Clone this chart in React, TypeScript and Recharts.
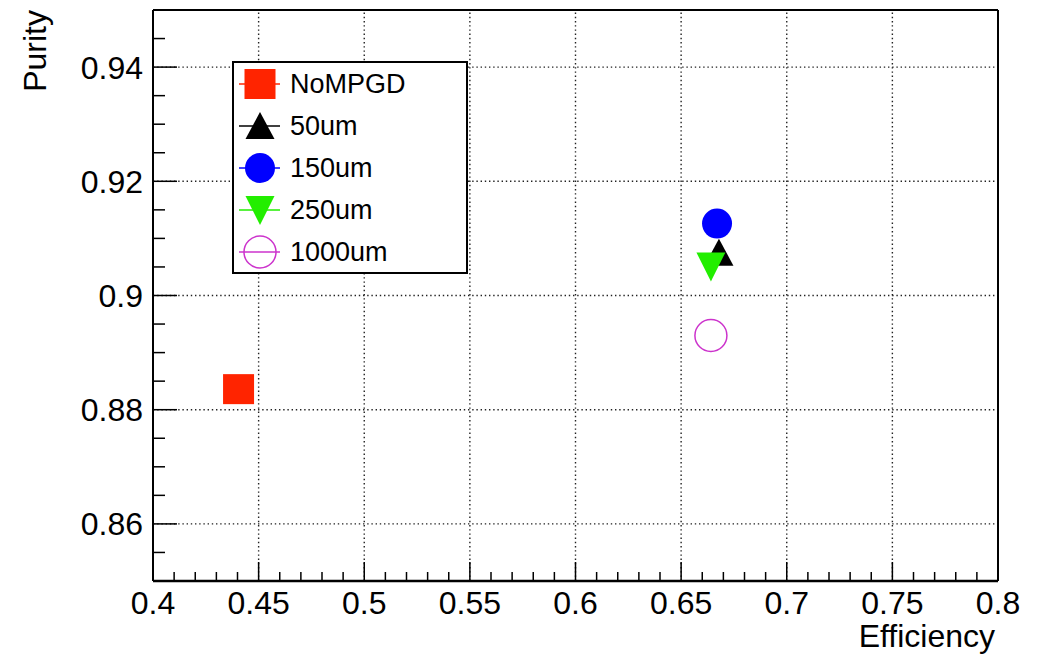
import React from 'react';
import { ScatterChart, Scatter, XAxis, YAxis, ReferenceLine, Legend } from 'recharts';

const FONT = '"Liberation Sans", Arial, Helvetica, sans-serif';

const seriesNames = ['NoMPGD', '50um', '150um', '250um', '1000um'];
const seriesColors = ['#ff2400', '#000000', '#0000ff', '#22ee00', '#cc33cc'];
const seriesShapes = ['square', 'triangle', 'circle', 'triangleDown', 'openCircle'];
const efficiency = [0.4405, 0.6679, 0.667, 0.6641, 0.6641];
const purity = [0.8836, 0.9075, 0.9126, 0.9051, 0.893];

const xDomain = [0.4, 0.8];
const yDomain = [0.85, 0.95];
const xMajorTicks = [0.4, 0.45, 0.5, 0.55, 0.6, 0.65, 0.7, 0.75, 0.8];
const xTickLabels = ['0.4', '0.45', '0.5', '0.55', '0.6', '0.65', '0.7', '0.75', '0.8'];
const xMinorTicks = [
  0.41, 0.42, 0.43, 0.44, 0.46, 0.47, 0.48, 0.49, 0.51, 0.52, 0.53, 0.54,
  0.56, 0.57, 0.58, 0.59, 0.61, 0.62, 0.63, 0.64, 0.66, 0.67, 0.68, 0.69,
  0.71, 0.72, 0.73, 0.74, 0.76, 0.77, 0.78, 0.79,
];
const xGridLines = [0.45, 0.5, 0.55, 0.6, 0.65, 0.7, 0.75];
const yMajorTicks = [0.86, 0.88, 0.9, 0.92, 0.94];
const yTickLabels = ['0.86', '0.88', '0.9', '0.92', '0.94'];
const yMinorTicks = [
  0.85, 0.855, 0.865, 0.87, 0.875, 0.885, 0.89, 0.895, 0.905, 0.91, 0.915,
  0.925, 0.93, 0.935, 0.945, 0.95,
];
const yGridLines = [0.86, 0.88, 0.9, 0.92, 0.94];

const xLabel = 'Efficiency';
const yLabel = 'Purity';

const isIn = (arr: number[], v: number) => arr.findIndex((a) => Math.abs(a - v) < 1e-9);

function Marker({ kind, color, cx, cy }: { kind: string; color: string; cx: number; cy: number }) {
  switch (kind) {
    case 'square':
      return <rect x={cx - 15.5} y={cy - 15} width={31} height={30} fill={color} />;
    case 'triangle':
      return (
        <polygon
          points={`${cx},${cy - 14} ${cx + 14.5},${cy + 13} ${cx - 14.5},${cy + 13}`}
          fill={color}
        />
      );
    case 'circle':
      return <circle cx={cx} cy={cy} r={15} fill={color} />;
    case 'triangleDown':
      return (
        <polygon
          points={`${cx},${cy + 15} ${cx + 14.5},${cy - 14} ${cx - 14.5},${cy - 14}`}
          fill={color}
        />
      );
    default:
      return <circle cx={cx} cy={cy} r={16} fill="none" stroke={color} strokeWidth={1.5} />;
  }
}

const XTick = (props: any) => {
  const { x, y, payload } = props;
  const idx = isIn(xMajorTicks, payload.value);
  const major = idx >= 0;
  return (
    <g>
      <line x1={x} y1={y} x2={x} y2={y - (major ? 19 : 9)} stroke="#000" strokeWidth={1.5} />
      {major && (
        <text x={x} y={y + 33} textAnchor="middle" fontSize={32} fontFamily={FONT} fill="#000">
          {xTickLabels[idx]}
        </text>
      )}
    </g>
  );
};

const YTick = (props: any) => {
  const { x, y, payload } = props;
  const idx = isIn(yMajorTicks, payload.value);
  const major = idx >= 0;
  return (
    <g>
      <line x1={x} y1={y} x2={x + (major ? 24 : 12)} y2={y} stroke="#000" strokeWidth={1.5} />
      {major && (
        <text x={x - 10} y={y + 11.5} textAnchor="end" fontSize={32} fontFamily={FONT} fill="#000">
          {yTickLabels[idx]}
        </text>
      )}
    </g>
  );
};

const LegendBox = () => (
  <div
    style={{
      width: 236,
      height: 213,
      boxSizing: 'border-box',
      border: '2px solid #000',
      background: '#fff',
      fontFamily: FONT,
      fontSize: 27,
      color: '#000',
    }}
  >
    {seriesNames.map((name, i) => (
      <div key={name} style={{ height: 42, display: 'flex', alignItems: 'center' }}>
        <svg width={56} height={42} style={{ display: 'block' }}>
          <line x1={5} y1={21} x2={46} y2={21} stroke={seriesColors[i]} strokeWidth={1.5} />
          <Marker kind={seriesShapes[i]} color={seriesColors[i]} cx={26} cy={21} />
        </svg>
        <span style={{ marginLeft: 0, lineHeight: '42px' }}>{name}</span>
      </div>
    ))}
  </div>
);

export default function App() {
  const gridStyle = { stroke: '#222', strokeWidth: 1.4, strokeDasharray: '1.4 2.8' };
  return (
    <div style={{ position: 'absolute', left: 0, top: 0, width: 1040, height: 655, background: '#fff' }}>
      <ScatterChart width={1040} height={655} margin={{ top: 10, right: 42, bottom: 0, left: 0 }}>
        <XAxis
          type="number"
          dataKey="x"
          domain={xDomain}
          allowDataOverflow
          ticks={[...xMajorTicks, ...xMinorTicks]}
          interval={0}
          tickSize={0}
          tickMargin={0}
          tickLine={false}
          tick={<XTick />}
          height={74}
          axisLine={{ stroke: '#000', strokeWidth: 2.5 }}
          label={{
            value: xLabel,
            content: (p: any) => (
              <text
                x={p.viewBox.x + p.viewBox.width - 3}
                y={p.viewBox.y + 66}
                textAnchor="end"
                fontSize={32}
                fontFamily={FONT}
                fill="#000"
              >
                {xLabel}
              </text>
            ),
          }}
        />
        <YAxis
          type="number"
          dataKey="y"
          domain={yDomain}
          allowDataOverflow
          ticks={[...yMajorTicks, ...yMinorTicks]}
          interval={0}
          tickSize={0}
          tickMargin={0}
          tickLine={false}
          tick={<YTick />}
          width={153}
          axisLine={{ stroke: '#000', strokeWidth: 2 }}
          label={{
            value: yLabel,
            content: (p: any) => (
              <text
                x={46}
                y={p.viewBox.y}
                transform={`rotate(-90, 46, ${p.viewBox.y})`}
                textAnchor="end"
                fontSize={32}
                fontFamily={FONT}
                fill="#000"
              >
                {yLabel}
              </text>
            ),
          }}
        />
        {xGridLines.map((v) => (
          <ReferenceLine key={`gx${v}`} x={v} {...gridStyle} />
        ))}
        {yGridLines.map((v) => (
          <ReferenceLine key={`gy${v}`} y={v} {...gridStyle} />
        ))}
        <ReferenceLine x={xDomain[1]} stroke="#000" strokeWidth={2} />
        <ReferenceLine y={yDomain[1]} stroke="#000" strokeWidth={2} />
        {seriesNames.map((name, i) => (
          <Scatter
            key={name}
            name={name}
            data={[{ x: efficiency[i], y: purity[i] }]}
            isAnimationActive={false}
            shape={(p: any) => (
              <Marker kind={seriesShapes[i]} color={seriesColors[i]} cx={p.cx} cy={p.cy} />
            )}
          />
        ))}
        <Legend
          layout="vertical"
          align="center"
          verticalAlign="middle"
          content={() => <LegendBox />}
          wrapperStyle={{ left: 232, top: 61, width: 236, height: 213 }}
        />
      </ScatterChart>
    </div>
  );
}
